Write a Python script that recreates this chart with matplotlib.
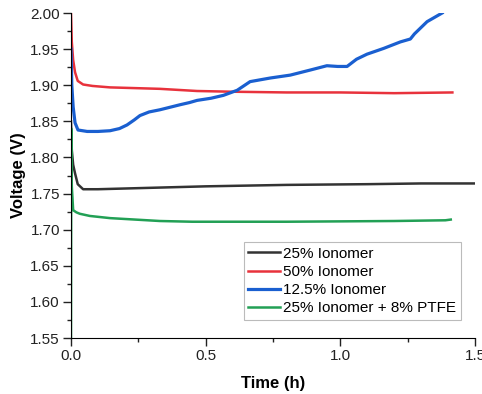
import matplotlib
matplotlib.use("Agg")
import matplotlib.pyplot as plt
import numpy as np
from matplotlib.ticker import MultipleLocator

plt.rcParams['font.family'] = ['Liberation Sans', 'DejaVu Sans']

# time (h) and voltage (V)
t_black = [0.0, 0.003, 0.008, 0.015, 0.025, 0.045, 0.1, 0.3, 0.5, 0.8, 1.1, 1.3, 1.5]
v_black = [1.85, 1.81, 1.79, 1.778, 1.763, 1.756, 1.756, 1.758, 1.760, 1.762, 1.763, 1.764, 1.764]

t_red = [0.0, 0.003, 0.008, 0.015, 0.025, 0.045, 0.08, 0.145, 0.33, 0.468, 0.60, 0.8, 1.0, 1.2, 1.416]
v_red = [2.00, 1.96, 1.935, 1.918, 1.906, 1.901, 1.899, 1.897, 1.895, 1.892, 1.891, 1.890, 1.890, 1.889, 1.890]

t_blue = [0.0, 0.003, 0.008, 0.015, 0.026, 0.06, 0.10, 0.145, 0.18, 0.208, 0.235, 0.256,
          0.29, 0.33, 0.405, 0.44, 0.468, 0.52, 0.566, 0.617, 0.665, 0.74, 0.814,
          0.888, 0.95, 0.99, 1.025, 1.06, 1.099, 1.161, 1.223, 1.260, 1.275, 1.322, 1.378]
v_blue = [1.95, 1.90, 1.87, 1.848, 1.838, 1.836, 1.836, 1.837, 1.840, 1.845, 1.852, 1.858,
          1.863, 1.866, 1.873, 1.876, 1.879, 1.882, 1.886, 1.893, 1.905, 1.910, 1.914,
          1.921, 1.927, 1.926, 1.926, 1.936, 1.943, 1.951, 1.960, 1.964, 1.971, 1.988, 2.000]

t_green = [0.0, 0.001, 0.003, 0.008, 0.02, 0.033, 0.07, 0.145, 0.33, 0.45, 0.8, 1.2, 1.39, 1.41]
v_green = [1.55, 1.84, 1.76, 1.727, 1.724, 1.722, 1.719, 1.716, 1.712, 1.711, 1.711, 1.712, 1.713, 1.714]

labels = ["25% Ionomer", "50% Ionomer", "12.5% Ionomer", "25% Ionomer + 8% PTFE"]
colors = ["#333333", "#e8323c", "#1a5fd0", "#22a055"]

fig = plt.figure(figsize=(4.82, 3.94), dpi=100)
ax = fig.add_axes([0.1473, 0.1421, 0.8382, 0.8249])

ax.plot(t_black, v_black, color=colors[0], lw=1.8, label=labels[0])
ax.plot(t_red, v_red, color=colors[1], lw=1.8, label=labels[1])
ax.plot(t_blue, v_blue, color=colors[2], lw=2.3, label=labels[2])
ax.plot(t_green, v_green, color=colors[3], lw=1.8, label=labels[3])

ax.set_xlim(0, 1.5)
ax.set_ylim(1.55, 2.0)
ax.xaxis.set_major_locator(MultipleLocator(0.5))
ax.xaxis.set_minor_locator(MultipleLocator(0.25))
ax.yaxis.set_major_locator(MultipleLocator(0.05))
ax.yaxis.set_minor_locator(MultipleLocator(0.025))
ax.xaxis.set_major_formatter(plt.FormatStrFormatter('%.1f'))
ax.yaxis.set_major_formatter(plt.FormatStrFormatter('%.2f'))
ax.tick_params(which='major', direction='out', length=6, width=1, labelsize=11, colors='#222222', pad=2)
ax.tick_params(which='minor', direction='out', length=3, width=1, colors='#222222')
ax.spines['top'].set_visible(False)
ax.spines['right'].set_visible(False)
ax.set_xlabel("Time (h)", fontsize=12, fontweight='bold', labelpad=9)
ax.set_ylabel("Voltage (V)", fontsize=12, fontweight='bold', labelpad=3)

leg = ax.legend(loc='lower right', bbox_to_anchor=(461 / 482, 1 - 320 / 394),
                bbox_transform=fig.transFigure, fontsize=11, frameon=True, fancybox=False,
                handlelength=2.1, handletextpad=0.2, borderpad=0.3, labelspacing=0.28,
                borderaxespad=0)
leg.get_frame().set_edgecolor('#aaaaaa')
leg.get_frame().set_linewidth(0.8)

fig.savefig("out.png", dpi=100)
